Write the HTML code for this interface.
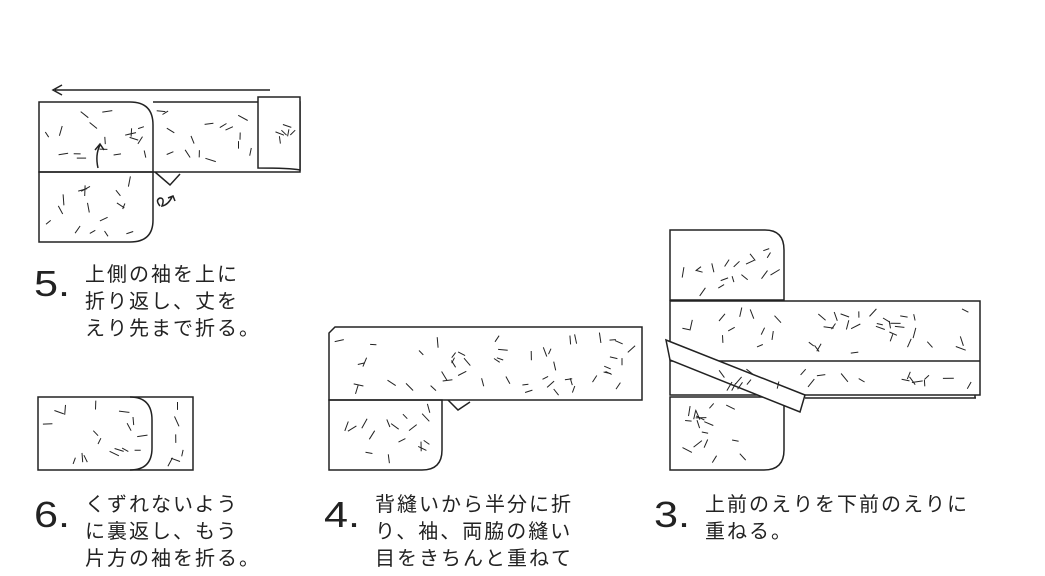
<!DOCTYPE html>
<html><head><meta charset="utf-8"><style>
body{margin:0;background:#fff;width:1045px;height:576px;overflow:hidden;position:relative;font-family:"Liberation Sans","Noto Sans CJK JP",sans-serif;color:#222}
.n{position:absolute;font-size:36px;font-family:"Liberation Sans",sans-serif;line-height:36px;transform:scaleX(1.2);transform-origin:left}
.t{position:absolute;font-size:20px;line-height:27px;letter-spacing:2px}
svg{position:absolute;left:0;top:0}
</style></head><body>
<svg id="s" width="1045" height="576" fill="none" stroke="#222" stroke-width="1.5">
<path d="M270,90 L55,90 M62,85 L53,90 L62,95"/>
<path d="M39,102 H130 Q153,102 153,125 V172 H39 Z"/>
<path d="M153,102 H300 V172 H153"/>
<path d="M258,97 H300 V170 Q290,168 258,168 Z" fill="#fff"/>
<path d="M39,172 H153 V220 Q153,242 130,242 H39 Z"/>
<path d="M155,172 L170,185 L180,174"/>
<path d="M98,168 Q95,155 100,145 M95,150 L100,144 L104,150"/>
<path d="M160,206 Q155,200 160,198 Q165,198 162,206 Q168,205 172,197 M168,198 L173,196 L175,201"/>
<path d="M38,397 H193 V470 H38 Z"/>
<path d="M130,397 Q152,397 152,420 V448 Q152,470 130,470"/>
<path d="M335,327 H642 V400 H329 V333 Z"/>
<path d="M329,400 H442 V450 Q442,470 422,470 H329 Z"/>
<path d="M448,400 L458,410 L470,402"/>
<path d="M670,230 H765 Q784,230 784,250 V300 H670 Z"/>
<path d="M670,301 H980 V395 H670 Z"/>
<path d="M670,361 H980"/>
<path d="M805,398 H976 M975,395 V398"/>
<path d="M670,397 H784 V450 Q784,470 764,470 H670 Z"/>
<path d="M666,340 L805,395 L800,412 L670,360 Z" fill="#fff"/>
<g id="h" stroke-width="1"></g>
</svg>
<div class="n" style="left:34px;top:266px">5.</div>
<div class="t" style="left:85px;top:262px">上側の袖を上に<br>折り返し、丈を<br>えり先まで折る。</div>
<div class="n" style="left:34px;top:497px">6.</div>
<div class="t" style="left:85px;top:492px">くずれないよう<br>に裏返し、もう<br>片方の袖を折る。</div>
<div class="n" style="left:324px;top:497px">4.</div>
<div class="t" style="left:375px;top:492px">背縫いから半分に折<br>り、袖、両脇の縫い<br>目をきちんと重ねて</div>
<div class="n" style="left:654px;top:497px">3.</div>
<div class="t" style="left:705px;top:492px">上前のえりを下前のえりに<br>重ねる。</div>
<script>
var seed=11;function r(){seed=(seed*16807)%2147483647;return seed/2147483647;}
var rects=[[42,105,108,65],[156,105,100,64],[262,100,36,66],[42,175,108,64],[41,400,108,68],[154,400,37,68],[332,330,308,68],[332,403,108,64],[673,233,108,65],[673,304,305,55],[673,364,305,29],[673,400,108,67]];
var g=document.getElementById('h'),s='';
rects.forEach(function(a){var n=Math.round(a[2]*a[3]/420);for(var i=0;i<n;i++){var x=a[0]+5+r()*(a[2]-10),y=a[1]+5+r()*(a[3]-10),an=r()*Math.PI,l=3+r()*2.5;s+='<line x1="'+(x-Math.cos(an)*l).toFixed(1)+'" y1="'+(y-Math.sin(an)*l).toFixed(1)+'" x2="'+(x+Math.cos(an)*l).toFixed(1)+'" y2="'+(y+Math.sin(an)*l).toFixed(1)+'"/>';}});
g.innerHTML=s;
</script>
</body></html>
